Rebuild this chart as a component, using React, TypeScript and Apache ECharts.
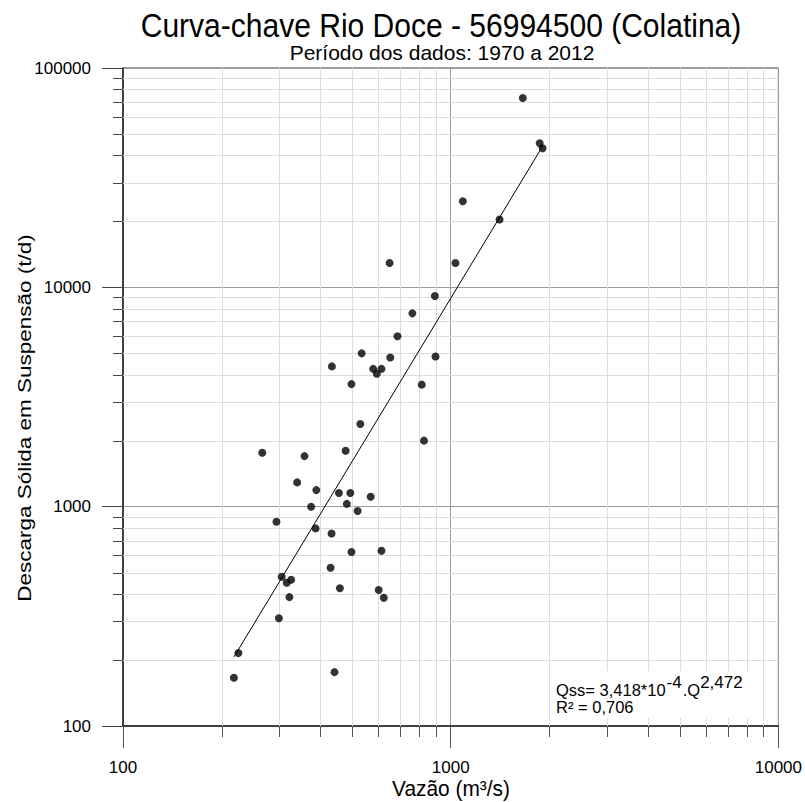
import React, { useEffect, useRef } from "react";
import * as echarts from "echarts";

// Vazão (m³/s) and Descarga Sólida em Suspensão (t/d)
const vazao = [1660, 1869, 1908, 1089, 1410, 1034, 651, 895, 764, 688, 535, 899, 654, 434, 580, 615, 595, 498, 816, 530, 829, 266, 358, 478, 340, 389, 456, 494, 570, 375, 482, 520, 294, 387, 433, 498, 615, 430, 305, 316, 326, 459, 603, 625, 322, 299, 225, 218, 442];
const descarga = [73000, 45400, 43100, 24700, 20400, 12900, 12900, 9130, 7610, 5980, 5000, 4840, 4790, 4360, 4250, 4250, 4040, 3620, 3600, 2380, 2000, 1760, 1700, 1800, 1290, 1190, 1155, 1155, 1110, 1000, 1030, 955, 854, 796, 755, 621, 630, 527, 479, 450, 464, 425, 417, 384, 387, 310, 215, 166, 176];

// Fitted power law: Qss = a * Q^b
const coefA = 3.418e-4;
const coefB = 2.472;

// Axis extents and ticks
const xMin = 100;
const xMax = 10000;
const yMin = 100;
const yMax = 100000;
const xDecades = [100, 1000];
const yDecades = [100, 1000, 10000];
const minorMultipliers = [2, 3, 4, 5, 6, 7, 8, 9];

const titleText = "Curva-chave Rio Doce - 56994500 (Colatina)";
const subtitleText = "Período dos dados: 1970 a 2012";
const xName = "Vazão (m³/s)";
const yName = "Descarga Sólida em Suspensão (t/d)";

const FONT = "'Liberation Sans', Arial, Helvetica, sans-serif";
const FONT_NARROW = "'Liberation Sans Narrow', 'Arial Narrow', 'Liberation Sans', Arial, sans-serif";

export default function App() {
  const ref = useRef<HTMLDivElement>(null);

  useEffect(() => {
    document.body.style.margin = "0";
    if (!ref.current) return;
    const chart = echarts.init(ref.current, undefined, { renderer: "svg" });

    const xMinor: number[] = [];
    xDecades.forEach((d) => minorMultipliers.forEach((m) => xMinor.push(d * m)));
    const yMinor: number[] = [];
    yDecades.forEach((d) => minorMultipliers.forEach((m) => yMinor.push(d * m)));

    const points = vazao.map((q, i) => [q, descarga[i]]);
    const qLo = Math.min(...vazao);
    const qHi = Math.max(...vazao);
    const fit = (q: number) => coefA * Math.pow(q, coefB);
    const fitLine = [
      [qLo, fit(qLo)],
      [qHi, fit(qHi)],
    ];

    const crisp = (v: number) => Math.round(v) + 0.5;

    chart.setOption({
      animation: false,
      backgroundColor: "#fff",
      grid: {
        left: 123,
        right: 23,
        top: 68,
        bottom: 76,
        show: true,
        borderColor: "#444",
        borderWidth: 1,
        backgroundColor: "transparent",
      },
      xAxis: {
        type: "log",
        logBase: 10,
        min: xMin,
        max: xMax,
        axisLine: { show: true, onZero: false, lineStyle: { color: "#222", width: 1.5 } },
        axisTick: { show: true, length: 22, lineStyle: { color: "#555" } },
        axisLabel: {
          margin: 33,
          fontSize: 17,
          fontFamily: FONT_NARROW,
          color: "#000",
          formatter: (v: number) => String(Math.round(v)),
        },
        splitLine: { show: true, lineStyle: { color: "#9a9a9a", width: 1 } },
      },
      yAxis: {
        type: "log",
        logBase: 10,
        min: yMin,
        max: yMax,
        axisLine: { show: true, onZero: false, lineStyle: { color: "#222", width: 1.5 } },
        axisTick: { show: true, length: 21, lineStyle: { color: "#444" } },
        axisLabel: {
          margin: 32,
          fontSize: 17,
          fontFamily: FONT_NARROW,
          color: "#000",
          formatter: (v: number) => String(Math.round(v)),
        },
        splitLine: { show: true, lineStyle: { color: "#9a9a9a", width: 1 } },
      },
      series: [
        {
          type: "custom",
          silent: true,
          z: 1,
          clip: false,
          data: xMinor.map((v) => [v, yMin]),
          renderItem: (params: any, api: any) => {
            const v = api.value(0);
            const b = api.coord([v, yMin]);
            const t = api.coord([v, yMax]);
            const x = crisp(b[0]);
            return {
              type: "group",
              children: [
                { type: "line", shape: { x1: x, y1: t[1], x2: x, y2: b[1] }, style: { stroke: "#dcdcdc", lineWidth: 1 } },
                { type: "line", shape: { x1: x, y1: b[1], x2: x, y2: b[1] + 11 }, style: { stroke: "#555", lineWidth: 1 } },
              ],
            };
          },
        },
        {
          type: "custom",
          silent: true,
          z: 1,
          clip: false,
          data: yMinor.map((v) => [xMin, v]),
          renderItem: (params: any, api: any) => {
            const v = api.value(1);
            const l = api.coord([xMin, v]);
            const r = api.coord([xMax, v]);
            const y = crisp(l[1]);
            return {
              type: "group",
              children: [
                { type: "line", shape: { x1: l[0], y1: y, x2: r[0], y2: y }, style: { stroke: "#dcdcdc", lineWidth: 1 } },
                { type: "line", shape: { x1: l[0] - 10, y1: y, x2: l[0], y2: y }, style: { stroke: "#444", lineWidth: 1 } },
              ],
            };
          },
        },
        {
          type: "line",
          data: fitLine,
          symbol: "none",
          z: 3,
          lineStyle: { color: "#000", width: 1 },
        },
        {
          type: "scatter",
          data: points,
          symbol: "circle",
          symbolSize: 8,
          z: 4,
          itemStyle: { color: "#000" },
        },
      ],
      graphic: [
        {
          type: "text",
          x: 441,
          y: 25,
          scaleX: 0.91,
          style: {
            text: titleText,
            fontSize: 33,
            fontFamily: FONT,
            fill: "#000",
            textAlign: "center",
            textVerticalAlign: "middle",
            align: "center",
            verticalAlign: "middle",
          },
        },
        {
          type: "text",
          x: 442,
          y: 52,
          style: {
            text: subtitleText,
            fontSize: 21,
            fontFamily: FONT,
            fill: "#000",
            textAlign: "center",
            textVerticalAlign: "middle",
            align: "center",
            verticalAlign: "middle",
          },
        },
        {
          type: "text",
          x: 451,
          y: 789,
          scaleX: 0.95,
          style: {
            text: xName,
            fontSize: 22,
            fontFamily: FONT,
            fill: "#000",
            textAlign: "center",
            textVerticalAlign: "middle",
            align: "center",
            verticalAlign: "middle",
          },
        },
        {
          type: "text",
          x: 25,
          y: 418,
          rotation: Math.PI / 2,
          scaleX: 1.25,
          style: {
            text: yName,
            fontSize: 18,
            fontFamily: FONT,
            fill: "#000",
            textAlign: "center",
            textVerticalAlign: "middle",
            align: "center",
            verticalAlign: "middle",
          },
        },
        {
          type: "rect",
          z: 10,
          shape: { x: 552, y: 671, width: 200, height: 47 },
          style: { fill: "#fff" },
        },
        {
          type: "text",
          z: 11,
          x: 556,
          y: 674,
          style: {
            text: "{m|Qss= 3,418*10}{s1|-4}{m|.Q}{s|2,472}\n{r|R² = 0,706}",
            fontFamily: FONT,
            fill: "#000",
            rich: {
              m: { fontSize: 16.5, fontFamily: FONT, lineHeight: 24, verticalAlign: "bottom", fill: "#000" },
              s1: { fontSize: 17, fontFamily: FONT, lineHeight: 10, verticalAlign: "top", fill: "#000", padding: [0, 1, 0, 1] },
              s: { fontSize: 17, fontFamily: FONT, lineHeight: 10, verticalAlign: "top", fill: "#000" },
              r: { fontSize: 16.5, fontFamily: FONT, lineHeight: 17, fill: "#000" },
            },
          },
        },
      ],
    });

    return () => chart.dispose();
  }, []);

  return <div ref={ref} style={{ width: 805, height: 802 }} />;
}
